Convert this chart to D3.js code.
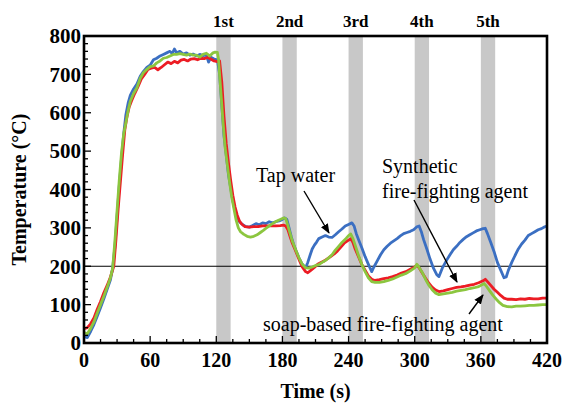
<!DOCTYPE html>
<html><head><meta charset="utf-8">
<script src="https://cdn.jsdelivr.net/npm/d3@7"></script>
<style>
html,body{margin:0;padding:0;background:#fff;}
</style></head>
<body><svg id="c" width="565" height="403"></svg>
<script>
// ---- data ----
const xTicks = [0, 60, 120, 180, 240, 300, 360, 420];
const yTicks = [0, 100, 200, 300, 400, 500, 600, 700, 800];
const sprayLabels = ["1st", "2nd", "3rd", "4th", "5th"];
const sprayStart = [120, 180, 240, 300, 360];
const sprayEnd = [133, 193, 253, 313, 373];
const refTemp = 200;

const tapTime = [0,3,6,9,12,15,18,21,24,26,28,30,32,34,36,38,40,42,45,48,51,54,57,60,63,66,69,72,75,78,80,82,84,87,90,93,96,99,102,105,108,111,113,115,118,121,123,125,127,129,131,133,135,137,139,141,144,147,150,153,156,159,162,165,168,171,174,177,180,182,184,186,188,190,192,195,198,201,203,205,207,209,211,213,216,219,222,225,228,231,234,237,240,243,245,247,249,252,255,258,261,263,266,269,272,275,278,281,284,287,290,293,296,299,302,304,306,308,311,314,317,320,322,325,329,332,335,338,341,344,347,350,353,356,359,362,364,366,369,372,375,378,381,383,385,388,391,394,397,400,403,406,409,412,415,418,420];
const tapTemp = [17,14,30,48,70,92,115,140,165,195,250,330,410,480,545,595,625,645,662,675,695,708,718,724,738,742,748,752,756,760,754,766,756,760,753,756,750,753,748,752,749,750,732,745,740,738,700,620,540,490,440,405,370,345,328,316,308,303,302,306,311,308,313,311,316,313,316,318,322,326,322,300,277,258,243,222,205,196,210,228,245,255,263,272,276,280,276,275,282,290,297,305,309,313,305,285,270,248,225,205,186,198,214,230,243,252,260,266,272,279,285,288,291,295,303,305,290,270,245,218,195,178,173,195,216,230,243,252,262,270,277,282,287,292,295,298,299,285,262,238,210,190,170,172,190,210,228,245,258,268,280,285,290,295,298,303,305];

const synTime = [0,3,6,9,12,15,18,21,24,27,29,31,33,35,37,39,41,43,46,49,52,55,58,61,64,67,70,73,76,79,82,85,88,91,94,97,100,103,106,109,112,115,118,121,123,125,127,129,131,133,135,137,139,141,143,146,150,154,158,162,166,170,174,178,181,183,185,187,189,192,195,198,201,203,206,209,212,215,218,221,224,227,230,233,236,239,242,244,246,249,252,255,258,261,264,268,272,276,280,284,288,292,296,300,302,304,307,310,313,316,319,322,326,330,334,338,342,346,350,354,358,362,364,366,369,372,375,378,381,384,388,392,396,400,404,408,412,416,420];
const synTemp = [37,40,50,65,88,108,131,150,172,200,270,350,420,490,555,590,615,630,650,668,688,700,713,716,718,712,718,725,732,728,734,730,737,739,735,740,741,738,742,741,744,740,735,733,735,680,590,520,470,425,385,355,333,318,310,303,302,303,303,305,305,305,305,306,307,305,295,277,260,240,218,198,186,183,190,197,205,210,214,220,226,232,240,250,260,266,272,262,245,225,205,190,175,166,163,165,168,170,173,177,182,186,192,198,203,196,182,168,155,145,138,134,136,139,142,145,146,148,151,153,157,162,166,160,150,140,132,124,117,114,114,113,115,114,116,115,115,117,117];

const soapTime = [0,3,6,9,12,15,18,21,24,26,28,30,32,34,36,38,40,42,45,48,51,54,57,60,63,66,69,72,75,78,81,84,87,90,93,96,99,102,105,108,111,114,117,119,121,122,124,126,128,130,132,134,136,138,140,142,145,148,151,154,157,160,163,166,169,172,175,178,181,183,185,187,189,192,195,198,201,204,207,210,213,216,219,222,225,228,231,234,237,240,242,244,246,249,252,255,258,261,264,268,272,276,280,284,288,292,296,300,302,304,307,310,313,316,319,322,326,330,334,338,342,346,350,354,358,361,363,365,368,371,374,377,380,384,388,392,396,400,404,408,412,416,420];
const soapTemp = [27,24,38,55,78,100,122,145,170,195,265,345,425,495,545,574,605,630,650,665,690,705,713,720,722,730,735,742,744,748,752,752,754,752,750,753,750,750,745,752,755,748,756,758,757,740,660,580,510,465,420,380,350,320,300,290,283,278,276,278,282,288,294,301,307,313,318,322,326,324,305,285,265,243,222,205,196,195,198,202,204,210,215,222,230,242,252,262,270,280,284,272,255,228,205,186,170,160,158,158,160,163,167,172,177,181,188,196,205,197,183,165,150,138,130,126,128,130,132,135,137,139,142,144,147,152,155,148,136,124,114,105,98,95,94,96,96,97,98,98,99,100,100];

const series = [
  {name: "Tap water", time: tapTime, temp: tapTemp, color: "#3b6fc2"},
  {name: "Synthetic", time: synTime, temp: synTemp, color: "#ec1c24"},
  {name: "Soap-based", time: soapTime, temp: soapTemp, color: "#8cc63f"}
];

// ---- layout ----
const FONT = "'Liberation Serif', 'Times New Roman', 'DejaVu Serif', serif";
const svg = d3.select("#c");
const L = 84, R = 547, T = 36, B = 343;
const x = d3.scaleLinear().domain([0, 420]).range([L, R]);
const y = d3.scaleLinear().domain([0, 800]).range([B, T]);

function txt(sel, size, bold) {
  return sel.attr("font-family", FONT).attr("font-size", size)
    .attr("font-weight", bold ? "bold" : "normal").attr("fill", "#000");
}

// spray bands
svg.append("g").selectAll("rect").data(sprayStart).join("rect")
  .attr("x", (d) => x(d))
  .attr("width", (d, i) => x(sprayEnd[i]) - x(d))
  .attr("y", T).attr("height", B - T)
  .attr("fill", "#c8c8c8");

txt(svg.append("g").selectAll("text").data(sprayLabels).join("text")
  .attr("x", (d, i) => x((sprayStart[i] + sprayEnd[i]) / 2))
  .attr("y", 27).attr("text-anchor", "middle"), 17, true)
  .text(d => d);

// reference line
svg.append("line").attr("x1", L).attr("x2", R)
  .attr("y1", y(refTemp)).attr("y2", y(refTemp))
  .attr("stroke", "#000").attr("stroke-width", 1.2);

// curves
const line = d3.line().x(d => x(d[0])).y(d => y(d[1]));
series.forEach(s => {
  const pts = s.time.map((t, i) => [t, s.temp[i]]);
  svg.append("path").datum(pts).attr("d", line)
    .attr("fill", "none").attr("stroke", s.color)
    .attr("stroke-width", 2.8).attr("stroke-linejoin", "round");
});

// axes (inward ticks)
const gx = svg.append("g").attr("transform", `translate(0,${B})`);
gx.selectAll("line").data(d3.range(0, 421, 15)).join("line")
  .attr("x1", d => x(d)).attr("x2", d => x(d))
  .attr("y1", 0).attr("y2", d => d % 60 === 0 ? -7 : -4)
  .attr("stroke", "#000").attr("stroke-width", 1.3);
txt(gx.selectAll("text").data(xTicks).join("text")
  .attr("x", d => x(d)).attr("y", 24).attr("text-anchor", "middle"), 20, true)
  .text(d => d);

const gy = svg.append("g").attr("transform", `translate(${L},0)`);
gy.selectAll("line").data(d3.range(0, 801, 20)).join("line")
  .attr("y1", d => y(d)).attr("y2", d => y(d))
  .attr("x1", 0).attr("x2", d => d % 100 === 0 ? 7 : 4)
  .attr("stroke", "#000").attr("stroke-width", 1.3);
txt(gy.selectAll("text").data(yTicks).join("text")
  .attr("x", -3).attr("y", d => y(d)).attr("dy", "0.35em")
  .attr("text-anchor", "end"), 21, true)
  .text(d => d);

// frame
svg.append("rect").attr("x", L).attr("y", T).attr("width", R - L).attr("height", B - T)
  .attr("fill", "none").attr("stroke", "#000").attr("stroke-width", 2.6);

// titles
txt(svg.append("text").attr("x", (L + R) / 2).attr("y", 398).attr("text-anchor", "middle"), 20, true)
  .text("Time (s)");
txt(svg.append("text").attr("transform", `translate(26,${(T + B) / 2}) rotate(-90)`)
  .attr("text-anchor", "middle"), 20, true).text("Temperature (°C)");

// annotations
const defs = svg.append("defs");
defs.append("marker").attr("id", "ah").attr("viewBox", "0 0 10 10")
  .attr("refX", 9).attr("refY", 5).attr("markerWidth", 10).attr("markerHeight", 10)
  .attr("markerUnits", "userSpaceOnUse").attr("orient", "auto")
  .append("path").attr("d", "M0,1 L10,5 L0,9 Z").attr("fill", "#000");
const ann = [
  {lines: ["Tap water"], x: 256, y: 182, from: [304, 191], to: [329, 233]},
  {lines: ["Synthetic", "fire-fighting agent"], x: 382, y: 173, from: [414, 200], to: [457, 282]},
  {lines: ["soap-based fire-fighting agent"], x: 263, y: 331, from: [469, 314], to: [483, 295]}
];
ann.forEach(a => {
  a.lines.forEach((t, i) => txt(svg.append("text").attr("x", a.x).attr("y", a.y + i * 25), 20, false).text(t));
  svg.append("line").attr("x1", a.from[0]).attr("y1", a.from[1])
    .attr("x2", a.to[0]).attr("y2", a.to[1])
    .attr("stroke", "#000").attr("stroke-width", 1.4).attr("marker-end", "url(#ah)");
});
</script></body></html>
